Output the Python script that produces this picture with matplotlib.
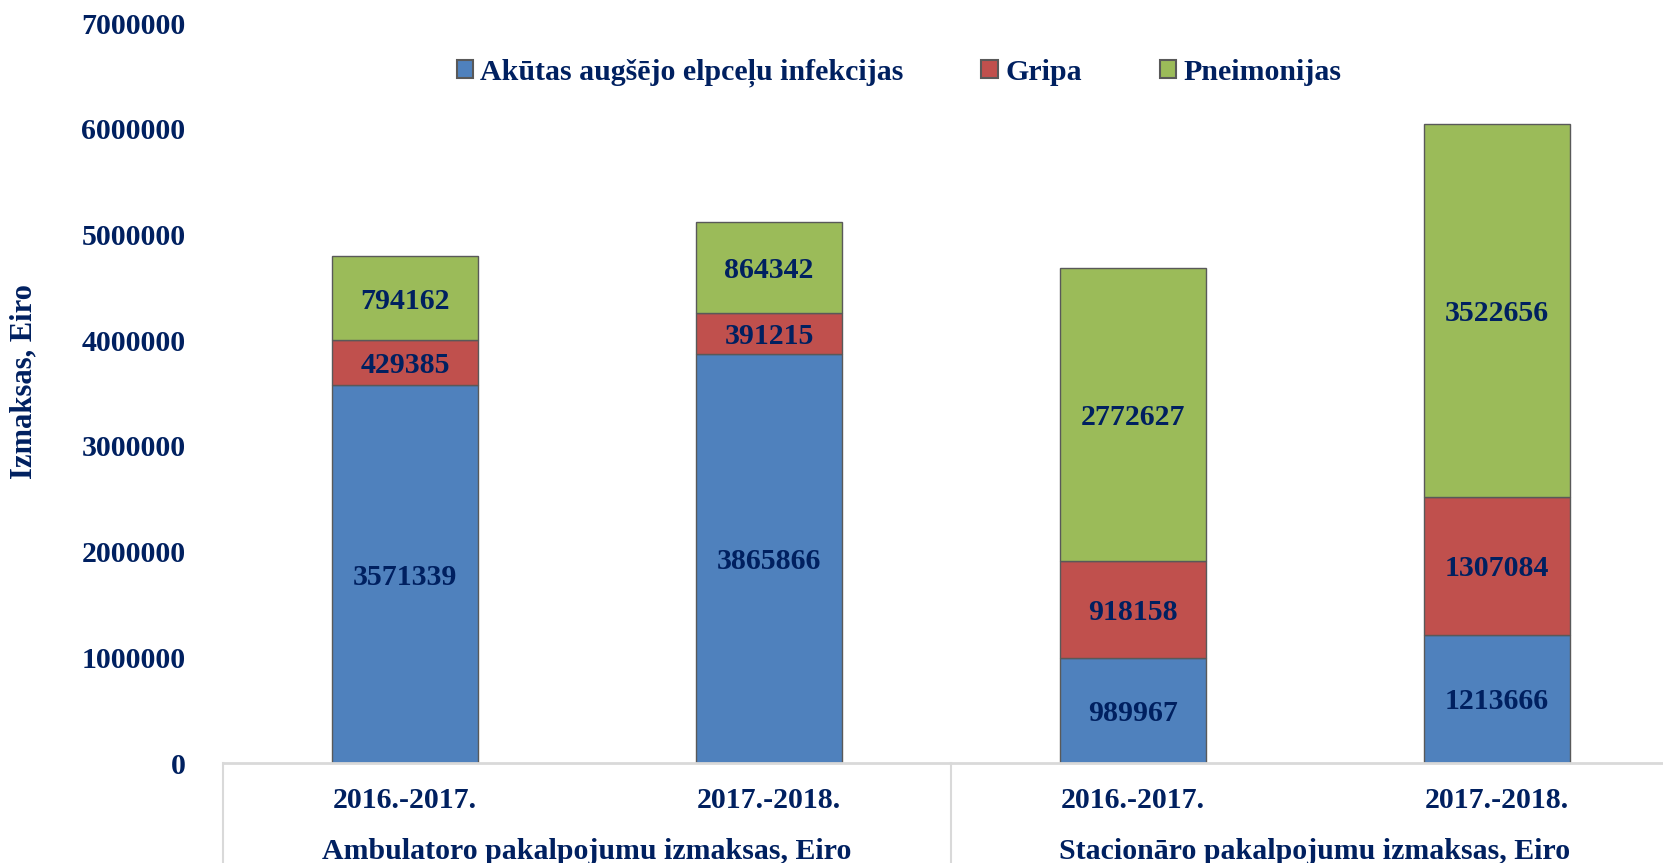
import matplotlib
matplotlib.use("Agg")
import matplotlib.pyplot as plt
from matplotlib.patches import Patch
from matplotlib.lines import Line2D
import numpy as np

plt.rcParams['font.family'] = ['Liberation Serif', 'DejaVu Serif']
plt.rcParams['font.weight'] = 'bold'

navy = '#002060'
fs = 21.5

# data
periods = ['2016.-2017.', '2017.-2018.', '2016.-2017.', '2017.-2018.']
groups = ['Ambulatoro pakalpojumu izmaksas, Eiro', 'Stacionāro pakalpojumu izmaksas, Eiro']
series_names = ['Akūtas augšējo elpceļu infekcijas', 'Gripa', 'Pneimonijas']
akutas = [3571339, 3865866, 989967, 1213666]
gripa = [429385, 391215, 918158, 1307084]
pneimonijas = [794162, 864342, 2772627, 3522656]
colors = ['#4F81BD', '#C0504D', '#9BBB59']

fig = plt.figure(figsize=(16.63, 8.63), dpi=100)
# axes right edge goes a bit past the figure (clipped like the original)
ax = fig.add_axes([223/1663, 100/863, 1456/1663, 740/863])

x = np.arange(len(periods))
bottom = np.zeros(len(periods))
for vals, col in zip([akutas, gripa, pneimonijas], colors):
    bars = ax.bar(x, vals, width=0.4, bottom=bottom, color=col,
                  edgecolor='#595959', linewidth=1.0)
    for xi, b, v in zip(x, bottom, vals):
        ax.text(xi, b + v/2, str(v), ha='center', va='center_baseline',
                fontsize=fs, color=navy, fontweight='bold')
    bottom = bottom + np.array(vals)

ax.set_xlim(-0.5, 3.5)
ax.set_ylim(0, 7000000)
ax.set_yticks(np.arange(0, 7000001, 1000000))
ax.set_yticklabels([str(v) for v in range(0, 7000001, 1000000)])
ax.tick_params(axis='y', length=0, pad=27, labelsize=fs, labelcolor=navy)
ax.set_xticks([])
for s in ['top', 'right', 'left']:
    ax.spines[s].set_visible(False)
ax.spines['bottom'].set_color('#D9D9D9')
ax.spines['bottom'].set_linewidth(2)

# two level category axis
for xi, p in zip(x, periods):
    ax.text(xi, -0.051, p, transform=ax.get_xaxis_transform(), ha='center',
            va='center', fontsize=fs, color=navy, fontweight='bold')
for gi, g in enumerate(groups):
    ax.text(gi*2 + 0.5, -0.119, g, transform=ax.get_xaxis_transform(),
            ha='center', va='center', fontsize=fs, color=navy, fontweight='bold')
for sx in [-0.5, 1.5, 3.5]:
    ax.add_line(Line2D([sx, sx], [0, -0.2], transform=ax.get_xaxis_transform(),
                       color='#D9D9D9', linewidth=1.5, clip_on=False))

ax.set_ylabel('Izmaksas, Eiro', fontsize=fs + 0.5, color=navy, fontweight='bold')
ax.yaxis.set_label_coords(-0.127, 0.515)

handles = [Patch(facecolor=c, edgecolor='#595959', linewidth=1.5) for c in colors]
fig.legend(handles, series_names, loc='center', bbox_to_anchor=(899/1663, 1 - 73/863),
           ncol=3, frameon=False, fontsize=fs, labelcolor=navy,
           handlelength=0.55, handleheight=0.55, handletextpad=0.25,
           columnspacing=2.6)

fig.savefig('out.png', dpi=100)
